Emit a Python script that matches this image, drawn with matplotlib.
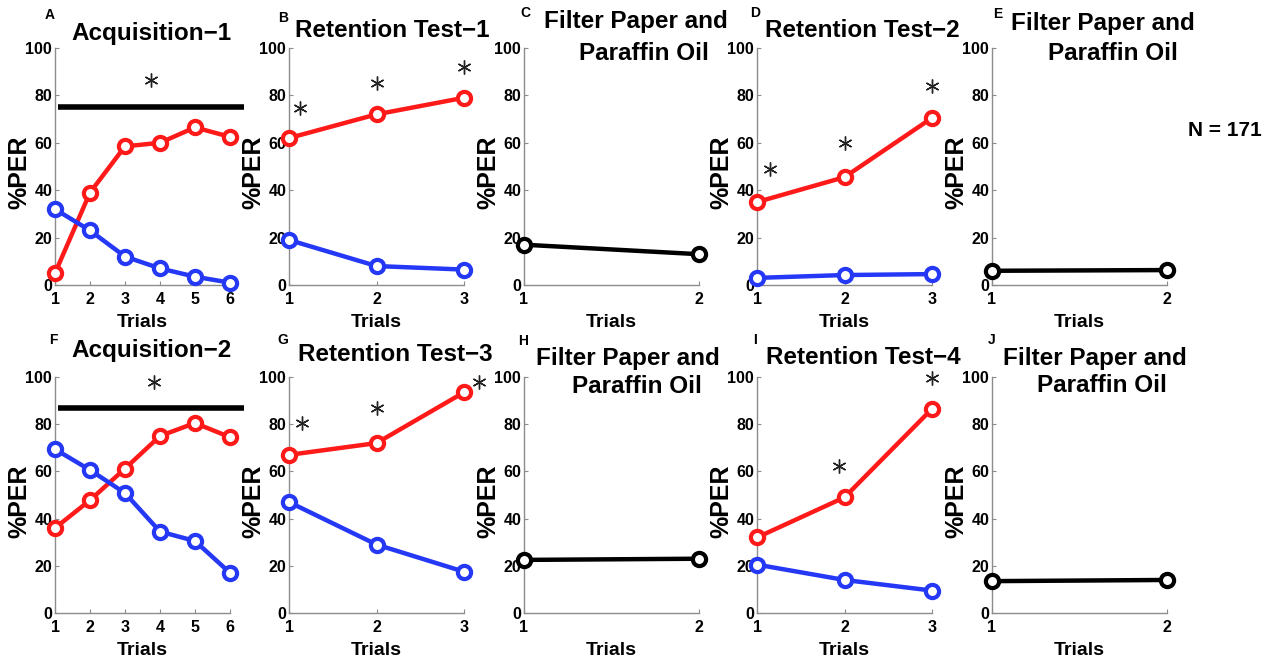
import matplotlib
matplotlib.use("Agg")
import matplotlib.pyplot as plt

plt.rcParams['font.family'] = ['Liberation Sans', 'DejaVu Sans']

# %PER values
acq1_red = [5, 39, 58.5, 60, 66.5, 62.5]
acq1_blue = [32, 23, 12, 7, 3.5, 1]
ret1_red = [62, 72, 79]
ret1_blue = [19, 8, 6.5]
ctrl1 = [17, 13]
ret2_red = [35, 45.5, 70.5]
ret2_blue = [3, 4.2, 4.6]
ctrl2 = [6, 6.3]

acq2_red = [36, 47.8, 61.2, 75, 80.5, 74.5]
acq2_blue = [69.4, 60.6, 50.8, 34.5, 30.5, 17]
ret3_red = [67, 72, 93.5]
ret3_blue = [47, 29, 17.5]
ctrl3 = [22.5, 23]
ret4_red = [32, 49, 86.5]
ret4_blue = [20.5, 14, 9.5]
ctrl4 = [13.5, 14]

# significance markers (x, y) and bars (x0, x1, y)
acq1_star = ([3.75], [86.5])
acq1_bar = (1.09, 6.4, 75)
acq2_star = ([3.82], [98])
acq2_bar = (1.09, 6.4, 87)
ret1_star = ([1.13, 2.0, 3.0], [74.7, 85.2, 92])
ret2_star = ([1.15, 2.0, 3.0], [49, 60, 84])
ret3_star = ([1.15, 2.0, 3.17], [80.5, 87, 98])
ret4_star = ([1.94, 3.0], [62.3, 99.6])

W, H = 1282, 657
RED = '#ff1a1a'
BLUE = '#2438f5'

fig = plt.figure(figsize=(W / 100, H / 100), dpi=100)


def px_text(x, y, s, **kw):
    fig.text(x / W, 1 - y / H, s, **kw)


def make_axes(left, top, bottom, width=175):
    ax = fig.add_axes([left / W, 1 - bottom / H, width / W, (bottom - top) / H])
    for side in ['top', 'right']:
        ax.spines[side].set_visible(False)
    for side in ['left', 'bottom']:
        ax.spines[side].set_color('#8c8c8c')
        ax.spines[side].set_linewidth(1.0)
    ax.set_ylim(0, 100)
    ax.set_yticks([0, 20, 40, 60, 80, 100])
    ax.tick_params(direction='in', length=3, color='#8c8c8c', labelsize=11.5)
    ax.tick_params(axis='x', pad=5)
    ax.tick_params(axis='y', pad=2)
    ax.set_xlabel('Trials', fontsize=14, fontweight='bold', labelpad=5)
    ax.set_ylabel('%PER', fontsize=18, fontweight='bold')
    ax.yaxis.set_label_coords(-0.135, 0.475)
    return ax


def draw_line(ax, vals, color, lw=3.2):
    x = list(range(1, len(vals) + 1))
    ax.plot(x, vals, '-o', color=color, lw=lw, ms=9.5, mew=3,
            mfc='white', mec=color, clip_on=False, zorder=3)
    ax.set_xlim(1, len(vals))
    ax.set_xticks(x)


def draw_stars(ax, star):
    ax.plot(star[0], star[1], linestyle='none', marker=(6, 2, 0), ms=10,
            mew=1.0, color='#222222', clip_on=False)


def draw_bar(ax, bar):
    ax.plot([bar[0], bar[1]], [bar[2], bar[2]], color='black', lw=4,
            clip_on=False, solid_capstyle='butt')


lefts = [55, 289, 524, 757, 992]
rows = [(48, 285), (377, 613)]

panels = [
    # row, col, letter, series, stars, bar
    (0, 0, 'A', [(acq1_red, RED), (acq1_blue, BLUE)], acq1_star, acq1_bar),
    (0, 1, 'B', [(ret1_red, RED), (ret1_blue, BLUE)], ret1_star, None),
    (0, 2, 'C', [(ctrl1, 'black')], None, None),
    (0, 3, 'D', [(ret2_red, RED), (ret2_blue, BLUE)], ret2_star, None),
    (0, 4, 'E', [(ctrl2, 'black')], None, None),
    (1, 0, 'F', [(acq2_red, RED), (acq2_blue, BLUE)], acq2_star, acq2_bar),
    (1, 1, 'G', [(ret3_red, RED), (ret3_blue, BLUE)], ret3_star, None),
    (1, 2, 'H', [(ctrl3, 'black')], None, None),
    (1, 3, 'I', [(ret4_red, RED), (ret4_blue, BLUE)], ret4_star, None),
    (1, 4, 'J', [(ctrl4, 'black')], None, None),
]

for row, col, letter, series, star, bar in panels:
    top, bottom = rows[row]
    ax = make_axes(lefts[col], top, bottom)
    for vals, color in series:
        draw_line(ax, vals, color)
    if star is not None:
        draw_stars(ax, star)
    if bar is not None:
        draw_bar(ax, bar)
    for lab in ax.get_xticklabels() + ax.get_yticklabels():
        lab.set_fontweight('bold')

# titles: (x center px, baseline px, text)
title_kw = dict(fontsize=17.5, fontweight='bold', ha='center', va='baseline')
titles = [
    (151, 40, 'Acquisition\u22121'),
    (392, 37, 'Retention Test\u22121'),
    (636, 28, 'Filter Paper and'), (644, 60, 'Paraffin Oil'),
    (862, 37, 'Retention Test\u22122'),
    (1103, 30, 'Filter Paper and'), (1113, 60, 'Paraffin Oil'),
    (152, 357, 'Acquisition\u22122'),
    (395, 361, 'Retention Test\u22123'),
    (628, 365, 'Filter Paper and'), (637, 393, 'Paraffin Oil'),
    (863, 364, 'Retention Test\u22124'),
    (1095, 365, 'Filter Paper and'), (1102, 392, 'Paraffin Oil'),
]
for x, y, s in titles:
    px_text(x, y, s, **title_kw)

letters = [(50, 15, 'A'), (283, 18, 'B'), (525, 13, 'C'), (755, 13, 'D'), (998, 14, 'E'),
           (53, 340, 'F'), (283, 340, 'G'), (523, 341, 'H'), (755, 340, 'I'), (992, 340, 'J')]
for x, y, s in letters:
    px_text(x, y, s, fontsize=10, fontweight='bold', ha='center', va='center')

px_text(1225, 131, 'N = 171', fontsize=15, fontweight='bold', ha='center', va='center')

fig.savefig('out.png', dpi=100)
